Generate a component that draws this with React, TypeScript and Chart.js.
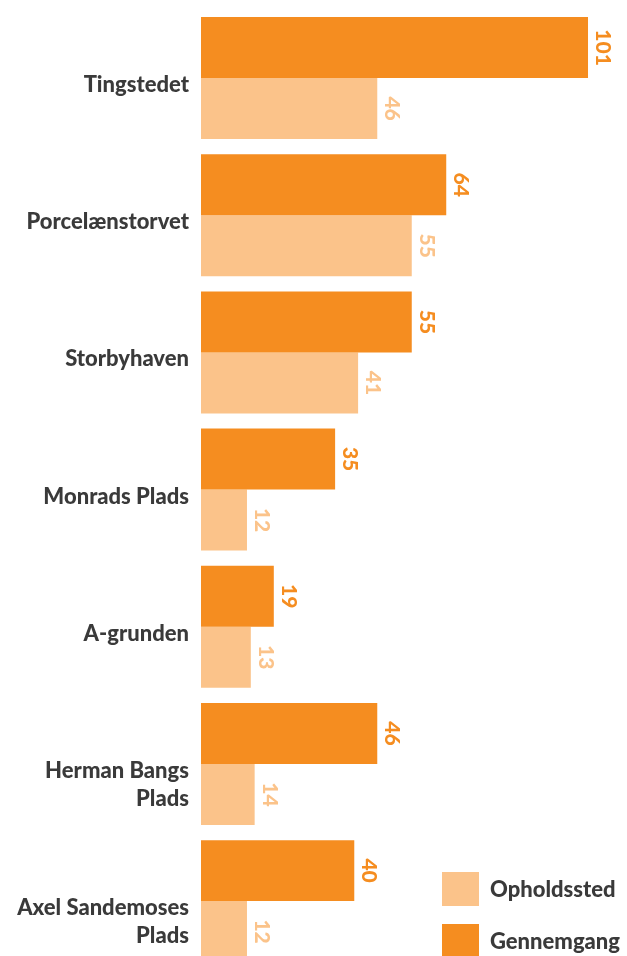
import React, { useEffect, useRef } from 'react';
import { Chart, registerables } from 'chart.js';

Chart.register(...registerables);

const categories: string[][] = [
  ['Tingstedet'],
  ['Porcelænstorvet'],
  ['Storbyhaven'],
  ['Monrads Plads'],
  ['A-grunden'],
  ['Herman Bangs', 'Plads'],
  ['Axel Sandemoses', 'Plads'],
];
const gennemgang = [101, 64, 55, 35, 19, 46, 40];
const opholdssted = [46, 55, 41, 12, 13, 14, 12];
const seriesNames = ['Gennemgang', 'Opholdssted'];
const seriesColors = ['#F58D20', '#FBC38A'];
const legendOrder = [1, 0];

const W = 627;
const H = 956;
const CANVAS_H = 970;
const FONT = 'Lato, "Open Sans", sans-serif';
const TEXT_COLOR = '#3A3A3A';

const labelsPlugin = {
  id: 'customLabels',
  afterDatasetsDraw(chart: any) {
    const { ctx, chartArea } = chart;
    const yScale = chart.scales.y;
    ctx.save();
    // category labels
    ctx.font = `900 22px ${FONT}`;
    ctx.fillStyle = TEXT_COLOR;
    ctx.textAlign = 'right';
    ctx.textBaseline = 'alphabetic';
    categories.forEach((lines, i) => {
      const yc = yScale.getPixelForValue(i);
      lines.forEach((ln, k) => {
        ctx.fillText(ln, chartArea.left - 12, yc + 14 + k * 28);
      });
    });
    // value labels (rotated)
    ctx.font = `900 21px ${FONT}`;
    chart.data.datasets.forEach((ds: any, di: number) => {
      const meta = chart.getDatasetMeta(di);
      meta.data.forEach((bar: any, i: number) => {
        ctx.save();
        ctx.translate(bar.x + 8, bar.y);
        ctx.rotate(Math.PI / 2);
        ctx.fillStyle = ds.backgroundColor;
        ctx.textAlign = 'center';
        ctx.textBaseline = 'alphabetic';
        ctx.fillText(String(ds.data[i]), 0, 0);
        ctx.restore();
      });
    });
    // legend
    ctx.font = `900 22px ${FONT}`;
    ctx.textAlign = 'left';
    legendOrder.forEach((di, k) => {
      const top = H - 84 + k * 52;
      ctx.fillStyle = seriesColors[di];
      ctx.fillRect(W - 185, top, 37, 34);
      ctx.fillStyle = TEXT_COLOR;
      ctx.fillText(seriesNames[di], W - 137, top + 25);
    });
    ctx.restore();
  },
};

export default function App() {
  const ref = useRef<HTMLCanvasElement | null>(null);
  useEffect(() => {
    if (!ref.current) return;
    const chart = new Chart(ref.current, {
      type: 'bar',
      data: {
        labels: categories.map((c) => c.join(' ')),
        datasets: [
          { label: seriesNames[0], data: gennemgang, backgroundColor: seriesColors[0] },
          { label: seriesNames[1], data: opholdssted, backgroundColor: seriesColors[1] },
        ],
      },
      options: {
        indexAxis: 'y',
        responsive: false,
        animation: false,
        maintainAspectRatio: false,
        layout: { padding: { left: 201, right: 4.5, top: 9.5, bottom: 0.3 } },
        datasets: { bar: { categoryPercentage: 122 / 137.2, barPercentage: 1, borderWidth: 0 } },
        scales: {
          x: { display: false, min: 0, max: 110 },
          y: { display: false },
        },
        plugins: { legend: { display: false }, tooltip: { enabled: false } },
      },
      plugins: [labelsPlugin],
    });
    return () => chart.destroy();
  }, []);
  return (
    <div style={{ position: 'absolute', left: 0, top: 0, width: W, height: H, overflow: 'hidden', background: '#fff' }}>
      <canvas ref={ref} width={W} height={CANVAS_H} style={{ display: 'block' }} />
    </div>
  );
}
